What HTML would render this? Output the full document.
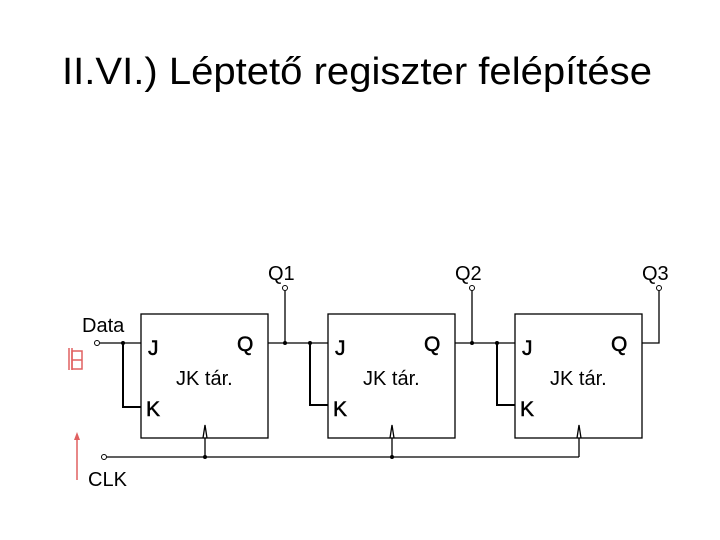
<!DOCTYPE html>
<html><head><meta charset="utf-8"><style>
html,body{margin:0;padding:0;background:#fff;}
svg{display:block;}
text{font-family:"Liberation Sans",Arial,sans-serif;}
</style></head><body>
<svg width="720" height="540" viewBox="0 0 720 540" xmlns="http://www.w3.org/2000/svg">
<rect width="720" height="540" fill="#fff"/>
<text x="62" y="84" font-size="38" textLength="590" lengthAdjust="spacingAndGlyphs" fill="#000">II.VI.) Léptető regiszter felépítése</text>

<g stroke="#000" stroke-width="1.3" fill="none">
  <rect x="141" y="314" width="127" height="124"/>
  <rect x="328" y="314" width="127" height="124"/>
  <rect x="515" y="314" width="127" height="124"/>
  <line x1="100" y1="343" x2="141" y2="343"/>
  <polyline points="123,343 123,407 141,407" stroke-width="2"/>
  <line x1="268" y1="343" x2="328" y2="343"/>
  <line x1="285" y1="343" x2="285" y2="291"/>
  <polyline points="310,343 310,405 328,405" stroke-width="2"/>
  <line x1="455" y1="343" x2="515" y2="343"/>
  <line x1="472" y1="343" x2="472" y2="291"/>
  <polyline points="497,343 497,405 515,405" stroke-width="2"/>
  <polyline points="642,343 659,343 659,291"/>
  <line x1="107" y1="457" x2="579" y2="457"/>
  <line x1="205" y1="438" x2="205" y2="457"/>
  <line x1="392" y1="438" x2="392" y2="457"/>
  <line x1="579" y1="438" x2="579" y2="457"/>
  <polyline points="203,438 205,425 207,438"/>
  <polyline points="390,438 392,425 394,438"/>
  <polyline points="577,438 579,425 581,438"/>
  <circle cx="97" cy="343" r="2.5" stroke-width="1"/>
  <circle cx="104" cy="457" r="2.5" stroke-width="1"/>
  <circle cx="285" cy="288" r="2.5" stroke-width="1"/>
  <circle cx="472" cy="288" r="2.5" stroke-width="1"/>
  <circle cx="659" cy="288" r="2.5" stroke-width="1"/>
</g>
<g fill="#000">
  <circle cx="123" cy="343" r="2"/>
  <circle cx="285" cy="343" r="2"/>
  <circle cx="310" cy="343" r="2"/>
  <circle cx="472" cy="343" r="2"/>
  <circle cx="497" cy="343" r="2"/>
  <circle cx="205" cy="457" r="2"/>
  <circle cx="392" cy="457" r="2"/>
</g>

<g font-size="20" fill="#000">
  <text x="82" y="332">Data</text>
  <text x="88" y="486">CLK</text>
  <text x="268" y="280">Q1</text>
  <text x="455" y="280">Q2</text>
  <text x="642" y="280">Q3</text>
  <text x="176" y="385">JK tár.</text>
  <text x="363" y="385">JK tár.</text>
  <text x="550" y="385">JK tár.</text>
</g>
<g font-size="21" fill="#000" stroke="#000" stroke-width="0.5">
  <text x="148" y="355">J</text><text x="237" y="351">Q</text><text x="146" y="416">K</text>
  <text x="335" y="355">J</text><text x="424" y="351">Q</text><text x="333" y="416">K</text>
  <text x="522" y="355">J</text><text x="611" y="351">Q</text><text x="520" y="416">K</text>
</g>

<g stroke="#e06060" stroke-width="1.5" fill="none">
  <line x1="69" y1="348" x2="69" y2="370"/>
  <line x1="72" y1="348" x2="72" y2="370"/>
  <rect x="72" y="351" width="10" height="18"/>
  <line x1="72" y1="360" x2="82" y2="360"/>
  <line x1="77" y1="438" x2="77" y2="480"/>
</g>
<polygon points="77,432 74,440 80,440" fill="#e06060"/>
</svg>
</body></html>
